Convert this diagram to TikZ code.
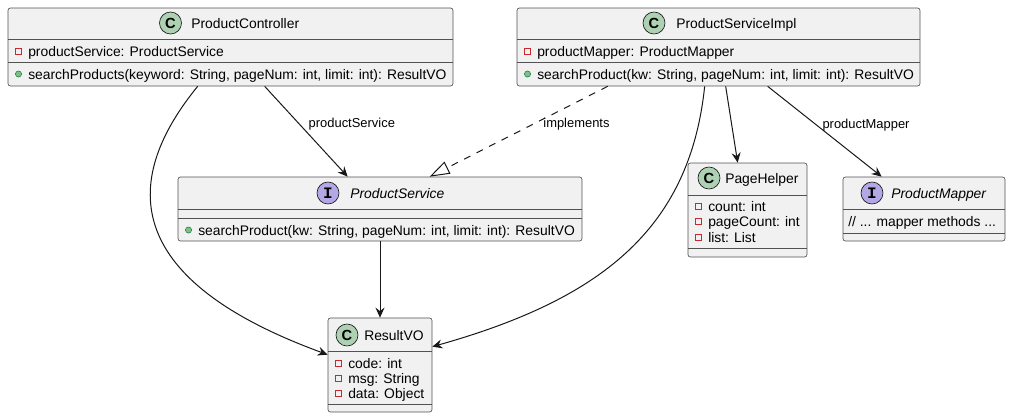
\documentclass[tikz,border=0pt]{standalone}
\usepackage{fontspec}
\setmainfont{Liberation Sans}
\newfontfamily\iconmono{Liberation Mono}
\usetikzlibrary{arrows.meta,calc,fit}

\definecolor{boxfill}{HTML}{F1F1F1}
\definecolor{boxline}{HTML}{181818}
\definecolor{classicon}{HTML}{ADD1B2}
\definecolor{ifaceicon}{HTML}{B4A7E5}
\definecolor{privred}{HTML}{C82930}
\definecolor{pubfill}{HTML}{84BE84}
\definecolor{publine}{HTML}{038048}

\tikzset{
  classbox/.style={draw=boxline!75, fill=boxfill, line width=0.5pt, rounded corners=1.8pt, inner sep=0pt},
  sepline/.style={draw=boxline!75, line width=0.5pt},
  member/.style={anchor=base west, inner sep=0pt, font=\fontsize{10.4}{12}\selectfont},
  edgelabel/.style={inner sep=0pt, font=\fontsize{9.7}{11}\selectfont},
  iconC/.style={circle, draw=boxline, line width=0.5pt, fill=classicon, minimum size=16.5pt, inner sep=0pt, font=\fontsize{11}{11}\selectfont\bfseries},
  iconI/.style={iconC, fill=ifaceicon, font=\fontsize{12}{12}\selectfont\iconmono\bfseries},
  assoc/.style={draw=boxline, line width=0.75pt, -{Stealth[length=7.5pt,width=6.75pt,inset=2.6pt]}},
  realize/.style={draw=boxline, line width=0.75pt, dash pattern=on 5.25pt off 5.25pt, -{Triangle[fill=white,length=15pt,width=10pt]}},
}

% private field / public method rows: name, box left x, row y, text
\newcommand{\privfield}[4]{%
  \draw[privred, line width=0.75pt] ({#2+10.5-3},{#3-3}) rectangle ++(6,6);
  \node[member] (#1) at ({#2+20},{#3+5}) {#4};
}
\newcommand{\pubmethod}[4]{%
  \filldraw[fill=pubfill, draw=publine, line width=0.4pt] ({#2+10.5},#3) circle[radius=2.3pt];
  \node[member] (#1) at ({#2+20},{#3+5}) {#4};
}

\begin{document}
\begin{tikzpicture}[x=0.75pt,y=-0.75pt]
\useasboundingbox (0,0) rectangle (1011,418);

% class boxes
\node[classbox, fit={(8,8) (453,86)}] (ctrl) {};
\node[classbox, fit={(517,8) (920,86)}] (impl) {};
\node[classbox, fit={(178,177) (582,241)}] (svc) {};
\node[classbox, fit={(688,163) (807,257)}] (page) {};
\node[classbox, fit={(843,177) (1005,241)}] (mapper) {};
\node[classbox, fit={(328,318) (432,412)}] (result) {};

% ProductController
\node[iconC] (ctrl-icon) at (170.5,23) {C};
\node[member] (ctrl-name) at (191,28) {ProductController};
\draw[sepline] (8,39) -- (453,39);
\draw[sepline] (8,62) -- (453,62);
\privfield{ctrl-f1}{8}{51}{productService: ProductService}
\pubmethod{ctrl-m1}{8}{74}{searchProducts(keyword: String, pageNum: int, limit: int): ResultVO}

% ProductServiceImpl
\node[iconC] (impl-icon) at (654,23) {C};
\node[member] (impl-name) at (676,28) {ProductServiceImpl};
\draw[sepline] (517,39) -- (920,39);
\draw[sepline] (517,62) -- (920,62);
\privfield{impl-f1}{517}{51}{productMapper: ProductMapper}
\pubmethod{impl-m1}{517}{74}{searchProduct(kw: String, pageNum: int, limit: int): ResultVO}

% ProductService
\node[iconI] (svc-icon) at (328,193) {I};
\node[member] (svc-name) at (350,198) {\itshape ProductService};
\draw[sepline] (178,209) -- (582,209);
\draw[sepline] (178,218) -- (582,218);
\pubmethod{svc-m1}{178}{230}{searchProduct(kw: String, pageNum: int, limit: int): ResultVO}

% PageHelper
\node[iconC] (page-icon) at (709,178) {C};
\node[member] (page-name) at (725,183) {PageHelper};
\draw[sepline] (688,195) -- (807,195);
\draw[sepline] (688,248) -- (807,248);
\privfield{page-f1}{688}{206}{count: int}
\privfield{page-f2}{688}{221.5}{pageCount: int}
\privfield{page-f3}{688}{237}{list: List}

% ProductMapper
\node[iconI] (mapper-icon) at (872,193) {I};
\node[member] (mapper-name) at (891,198) {\itshape ProductMapper};
\draw[sepline] (843,209) -- (1005,209);
\draw[sepline] (843,233) -- (1005,233);
\node[member] (mapper-c1) at (848,226) {// ... mapper methods ...};

% ResultVO
\node[iconC] (result-icon) at (347,335) {C};
\node[member] (result-name) at (364,340) {ResultVO};
\draw[sepline] (328,351) -- (432,351);
\draw[sepline] (328,404) -- (432,404);
\privfield{result-f1}{328}{363}{code: int}
\privfield{result-f2}{328}{378}{msg: String}
\privfield{result-f3}{328}{393}{data: Object}

% connectors
\draw[assoc] ($(ctrl.south west)+(190,0)$) .. controls +(-93,114) and +(-178,-65) .. ($(result.north west)+(0,37)$);
\draw[assoc] ($(ctrl.south west)+(257,0)$) -- node[edgelabel, anchor=west, pos=0.42, xshift=6.5pt] (lbl-svc) {productService} ($(svc.north west)+(170,0)$);
\draw[realize] ($(impl.south west)+(91,0)$) -- node[edgelabel, anchor=west, pos=0.42, xshift=7.5pt] (lbl-impl) {implements} ($(svc.north west)+(252,0)$);
\draw[assoc] ($(impl.south west)+(188,0)$) .. controls +(-15,144) and +(167,-47) .. ($(result.north east)+(0,29)$);
\draw[assoc] ($(impl.south west)+(209,0)$) -- ($(page.north west)+(50,0)$);
\draw[assoc] ($(impl.south west)+(251,0)$) -- node[edgelabel, anchor=west, pos=0.43, xshift=4pt] (lbl-mapper) {productMapper} ($(mapper.north west)+(39,0)$);
\draw[assoc] (svc.south) -- (result.north);
\end{tikzpicture}
\end{document}
